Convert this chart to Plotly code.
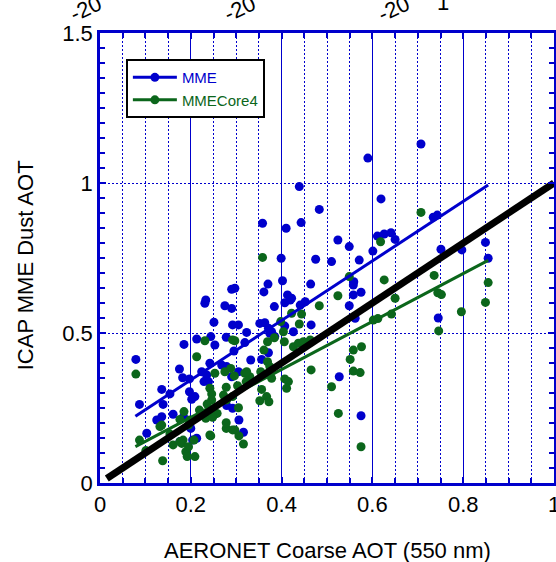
import plotly.graph_objects as go

# ---------------- data ----------------
mme_x = [0.707, 0.590, 0.619, 0.734, 0.743, 0.611, 0.626, 0.641, 0.650, 0.601,
         0.751, 0.797, 0.849, 0.855, 0.745, 0.439, 0.483, 0.358, 0.410, 0.443,
         0.524, 0.549, 0.399, 0.475, 0.510, 0.571, 0.370, 0.402, 0.464, 0.361,
         0.559, 0.558, 0.575, 0.413, 0.422, 0.558, 0.297, 0.384, 0.407, 0.419,
         0.441, 0.452, 0.549, 0.305, 0.352, 0.363, 0.371, 0.378, 0.407, 0.426,
         0.465, 0.323, 0.319, 0.371, 0.332, 0.356, 0.562, 0.527, 0.575, 0.305,
         0.306, 0.316, 0.231, 0.275, 0.290, 0.251, 0.292, 0.185, 0.213, 0.244,
         0.253, 0.278, 0.079, 0.175, 0.182, 0.197, 0.224, 0.235, 0.242, 0.229,
         0.239, 0.279, 0.290, 0.136, 0.154, 0.197, 0.202, 0.209, 0.087, 0.139,
         0.161, 0.125, 0.136, 0.184, 0.103, 0.279, 0.292, 0.200, 0.204, 0.213,
         0.176, 0.290, 0.233, 0.295, 0.268, 0.374, 0.385]
mme_y = [1.130, 1.083, 0.947, 0.886, 0.893, 0.823, 0.830, 0.834, 0.812, 0.773,
         0.779, 0.777, 0.802, 0.749, 0.550, 0.988, 0.912, 0.866, 0.849, 0.868,
         0.810, 0.788, 0.749, 0.746, 0.738, 0.743, 0.663, 0.674, 0.663, 0.637,
         0.671, 0.660, 0.636, 0.627, 0.616, 0.627, 0.649, 0.588, 0.601, 0.610,
         0.593, 0.604, 0.591, 0.527, 0.532, 0.534, 0.516, 0.504, 0.523, 0.504,
         0.527, 0.502, 0.468, 0.434, 0.410, 0.412, 0.549, 0.354, 0.224, 0.371,
         0.210, 0.169, 0.599, 0.591, 0.582, 0.536, 0.527, 0.462, 0.480, 0.488,
         0.460, 0.486, 0.412, 0.380, 0.351, 0.347, 0.371, 0.360, 0.399, 0.338,
         0.338, 0.388, 0.354, 0.312, 0.297, 0.304, 0.279, 0.288, 0.262, 0.262,
         0.229, 0.210, 0.221, 0.221, 0.166, 0.258, 0.249, 0.182, 0.143, 0.149,
         0.138, 0.646, 0.610, 0.440, 0.393, 0.499, 0.488]

core_x = [0.707, 0.618, 0.626, 0.650, 0.736, 0.744, 0.752, 0.602, 0.612, 0.642,
          0.796, 0.855, 0.849, 0.746, 0.358, 0.549, 0.524, 0.483, 0.422, 0.444,
          0.398, 0.439, 0.404, 0.369, 0.384, 0.406, 0.426, 0.437, 0.448, 0.463,
          0.297, 0.361, 0.369, 0.374, 0.319, 0.330, 0.323, 0.378, 0.407, 0.415,
          0.411, 0.465, 0.356, 0.352, 0.367, 0.372, 0.305, 0.558, 0.576, 0.551,
          0.558, 0.573, 0.510, 0.525, 0.575, 0.306, 0.316, 0.297, 0.079, 0.231,
          0.213, 0.292, 0.253, 0.275, 0.288, 0.242, 0.246, 0.246, 0.272, 0.279,
          0.292, 0.251, 0.258, 0.219, 0.233, 0.242, 0.278, 0.278, 0.185, 0.176,
          0.198, 0.195, 0.136, 0.154, 0.161, 0.180, 0.183, 0.087, 0.101, 0.138,
          0.189, 0.192, 0.209, 0.195, 0.176, 0.207, 0.292, 0.244, 0.236, 0.248,
          0.132, 0.278, 0.296, 0.322, 0.354, 0.303]
core_y = [0.902, 0.804, 0.677, 0.616, 0.692, 0.634, 0.628, 0.543, 0.548, 0.563,
          0.571, 0.668, 0.602, 0.507, 0.752, 0.688, 0.624, 0.591, 0.566, 0.563,
          0.538, 0.530, 0.504, 0.471, 0.484, 0.471, 0.454, 0.466, 0.471, 0.477,
          0.474, 0.443, 0.404, 0.388, 0.366, 0.354, 0.371, 0.349, 0.347, 0.338,
          0.316, 0.377, 0.312, 0.274, 0.288, 0.271, 0.251, 0.443, 0.454, 0.412,
          0.373, 0.368, 0.321, 0.232, 0.121, 0.157, 0.130, 0.177, 0.363, 0.474,
          0.421, 0.477, 0.366, 0.371, 0.382, 0.316, 0.297, 0.277, 0.293, 0.277,
          0.288, 0.227, 0.232, 0.243, 0.216, 0.160, 0.182, 0.201, 0.238, 0.212,
          0.210, 0.193, 0.193, 0.163, 0.127, 0.132, 0.143, 0.143, 0.108, 0.074,
          0.104, 0.088, 0.088, 0.121, 0.138, 0.143, 0.177, 0.157, 0.263, 0.219,
          0.188, 0.319, 0.357, 0.338, 0.371, 0.324]

# regression lines (slope, intercept) and their x extents
mme_fit = (0.992, 0.145)
core_fit = (0.799, 0.059)
fit_x = [0.078, 0.855]
one_to_one_x = [0.015, 1.0]

x_tick_vals = [0, 0.2, 0.4, 0.6, 0.8, 1]
x_tick_text = ["0", "0.2", "0.4", "0.6", "0.8", "1"]
y_tick_vals = [0, 0.5, 1, 1.5]
y_tick_text = ["0", "0.5", "1", "1.5"]

series_names = ["MME", "MMECore4"]
top_cut_labels = ["-20", "-20", "-20"]
top_cut_pos = [-0.031, 0.308, 0.648]

BLUE = "#0000cc"
GREEN = "#0b661b"
FONT = "Liberation Sans, Arial, sans-serif"

fig = go.Figure()

fig.add_trace(go.Scatter(x=mme_x, y=mme_y, mode="markers", showlegend=False,
                         marker=dict(color=BLUE, size=9, line=dict(width=0))))
fig.add_trace(go.Scatter(x=core_x, y=core_y, mode="markers", showlegend=False,
                         marker=dict(color=GREEN, size=9, line=dict(width=0))))

fig.add_trace(go.Scatter(x=fit_x, y=[mme_fit[0] * v + mme_fit[1] for v in fit_x],
                         mode="lines", showlegend=False,
                         line=dict(color=BLUE, width=3)))
fig.add_trace(go.Scatter(x=fit_x, y=[core_fit[0] * v + core_fit[1] for v in fit_x],
                         mode="lines", showlegend=False,
                         line=dict(color=GREEN, width=3)))
fig.add_trace(go.Scatter(x=one_to_one_x, y=one_to_one_x, mode="lines",
                         showlegend=False, line=dict(color="black", width=7)))

# legend entries
for name, col in zip(series_names, [BLUE, GREEN]):
    fig.add_trace(go.Scatter(x=[None], y=[None], mode="lines+markers",
                             name=f"<span style='color:{col}'>{name}</span>",
                             line=dict(color=col, width=3),
                             marker=dict(color=col, size=9)))

axis_common = dict(
    showline=True, linecolor=BLUE, linewidth=2.5, mirror="allticks",
    ticks="inside", tickcolor=BLUE, tickwidth=2, ticklen=6,
    zeroline=False, automargin=False, ticklabeloverflow="allow",
    tickfont=dict(family=FONT, size=22, color="black"),
)

fig.update_xaxes(
    range=[0, 1], tickvals=x_tick_vals, ticktext=x_tick_text,
    showgrid=True, gridcolor=BLUE, gridwidth=1,
    minor=dict(dtick=0.05, tick0=0, ticks="inside", ticklen=5, tickcolor=BLUE,
               tickwidth=2, showgrid=True, gridcolor=BLUE, gridwidth=1,
               griddash="2px,2px"),
    **axis_common,
)
fig.update_yaxes(
    range=[0, 1.5], tickvals=y_tick_vals, ticktext=y_tick_text,
    showgrid=True, gridcolor=BLUE, gridwidth=1, griddash="2px,2px",
    minor=dict(dtick=0.05, tick0=0, ticks="inside", ticklen=5, tickcolor=BLUE,
               tickwidth=2, showgrid=False),
    **axis_common,
)

annotations = [
    dict(text="AERONET Coarse AOT (550 nm)", xref="paper", yref="paper",
         x=0.5, y=-0.149, xanchor="center", yanchor="middle", showarrow=False,
         font=dict(family=FONT, size=22, color="black")),
    dict(text="ICAP MME Dust AOT", xref="paper", yref="paper",
         x=-0.165, y=0.484, xanchor="center", yanchor="middle", showarrow=False,
         textangle=-90, font=dict(family=FONT, size=22, color="black")),
]
for lab, xp in zip(top_cut_labels, top_cut_pos):
    annotations.append(dict(text=lab, xref="paper", yref="paper", x=xp, y=1.054,
                            xanchor="center", yanchor="middle", showarrow=False,
                            textangle=-25,
                            font=dict(family=FONT, size=22, color="black")))
annotations.append(dict(text="1", xref="paper", yref="paper", x=0.755, y=1.068,
                        xanchor="center", yanchor="middle", showarrow=False,
                        font=dict(family=FONT, size=22, color="black")))

fig.update_layout(
    template="none",
    width=556, height=562,
    margin=dict(l=100, r=2, t=33, b=79),
    paper_bgcolor="white", plot_bgcolor="white",
    showlegend=True,
    legend=dict(x=0.057, y=0.942, xanchor="left", yanchor="top",
                bgcolor="white", bordercolor="black", borderwidth=2,
                font=dict(family=FONT, size=15, color="black"),
                itemwidth=44, tracegroupgap=0),
    annotations=annotations,
)

fig.write_html("out.html")
